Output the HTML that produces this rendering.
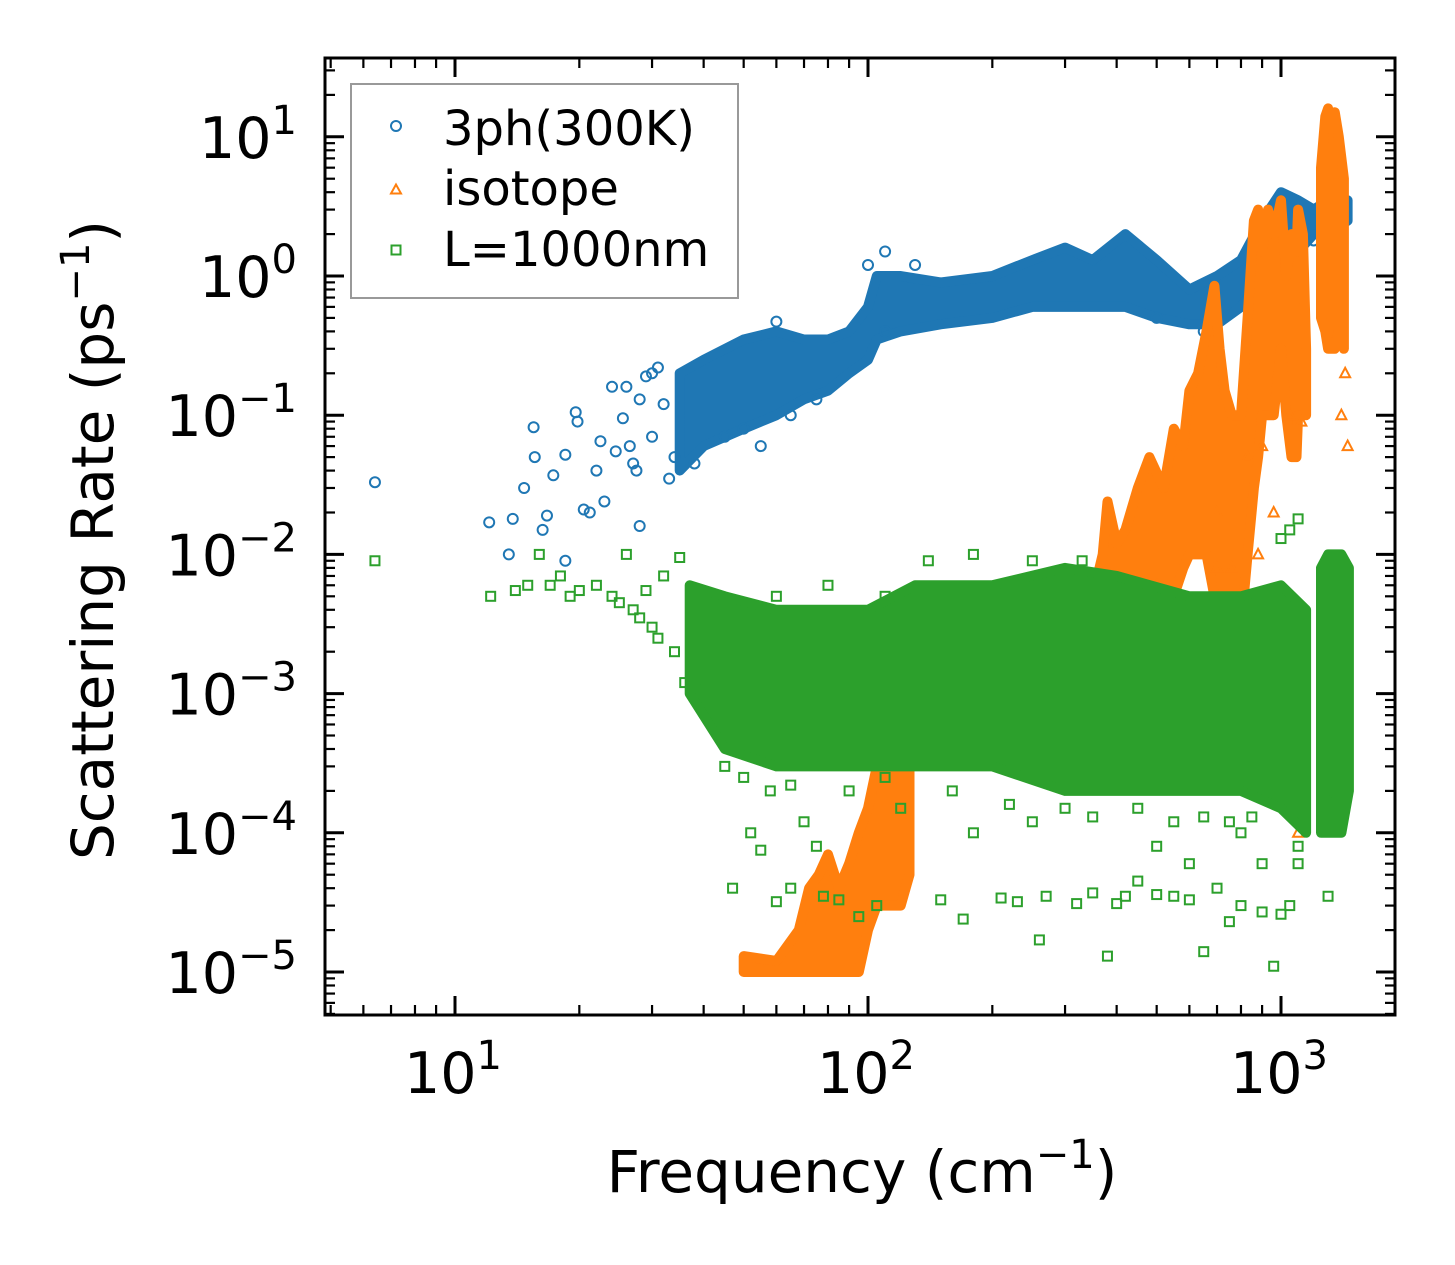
<!DOCTYPE html>
<html><head><meta charset="utf-8"><style>
html,body{margin:0;padding:0;background:#fff;}
svg{display:block;font-family:"DejaVu Sans","Liberation Sans",sans-serif;}
</style></head><body>
<svg id="chart" width="1455" height="1265" viewBox="0 0 1455 1265">
<g id="marks"></g>
<g id="axes"></g>
</svg>
<script>
// ---- data ----
const xTickExps = [1, 2, 3];
const yTickExps = [1, 0, -1, -2, -3, -4, -5];
const blueBandFreq = [35,40,50,60,70,80,90,100,105,120,150,200,250,300,350,420,500,600,700,800,900,1000,1100,1200,1300,1450];
const blueBandLow  = [0.04,0.06,0.08,0.1,0.13,0.15,0.2,0.25,0.35,0.4,0.45,0.5,0.6,0.6,0.6,0.6,0.5,0.45,0.45,0.6,1.0,1.5,1.5,2,2,2.5];
const blueBandHigh = [0.2,0.25,0.35,0.4,0.35,0.35,0.4,0.6,1.0,1.0,0.9,1.0,1.3,1.6,1.3,2.0,1.3,0.8,1.0,1.3,2.5,4,3.5,3,3.5,3.5];
const bluePts = [[6.4,0.033],[12.1,0.017],[13.5,0.010],[13.8,0.018],[14.7,0.030],[15.5,0.082],[15.6,0.05],[16.3,0.015],[16.7,0.019],[17.3,0.037],[18.5,0.052],[18.5,0.009],[19.6,0.105],[19.8,0.09],[20.5,0.021],[21.2,0.02],[22,0.04],[22.5,0.065],[23,0.024],[24,0.16],[24.5,0.055],[25.5,0.095],[26,0.16],[26.5,0.06],[27,0.045],[27.5,0.04],[28,0.016],[28,0.13],[29,0.19],[30,0.2],[31,0.22],[32,0.12],[30,0.07],[33,0.035],[34,0.05],[100,1.2],[110,1.5],[60,0.47],[45,0.07],[55,0.06],[65,0.1],[75,0.13],[50,0.08],[38,0.045],[110,0.4],[130,1.2],[500,0.5],[650,0.4],[1200,1.8]];
const orangeBandFreq = [50,60,68,72,76,80,85,90,95,100,105,110,115,120,126];
const orangeBandLow  = [1e-5,1e-5,1e-5,1e-5,1e-5,1e-5,1e-5,1e-5,1e-5,2e-5,3e-5,3e-5,3e-5,3e-5,5e-5];
const orangeBandHigh = [1.3e-5,1.2e-5,2e-5,4e-5,5e-5,7e-5,4e-5,6e-5,1e-4,1.5e-4,3e-4,5e-4,3e-4,4e-4,3e-4];
const orange2Freq = [330,350,370,380,400,420,450,480,520,550,580,600,630,660,690,710,730,760,800,830,860,880,900,930,960,1000,1030,1060,1090,1100,1130,1150];
const orange2Low  = [1e-3,1e-3,2e-3,2e-3,3e-3,3e-3,3e-3,5e-3,5e-3,5e-3,8e-3,1e-2,1e-2,1e-2,5e-3,3e-3,3e-3,3e-3,3e-3,0.01,0.03,0.05,0.1,0.1,0.1,0.3,0.1,0.05,0.05,0.1,0.1,0.1];
const orange2High = [3e-3,5e-3,1e-2,2.4e-2,1.2e-2,1.5e-2,3e-2,5e-2,3e-2,8e-2,6e-2,0.15,0.2,0.4,0.85,0.3,0.15,0.1,0.1,0.5,2.5,3,1.5,3,2,3.5,1,2,1.5,3,2,0.3];
const orange3Freq = [1250,1280,1300,1320,1350,1380,1420];
const orange3Low  = [0.5,0.4,0.3,0.3,0.3,0.4,0.3];
const orange3High = [6,14,16,12,15,10,5];
const orangePts = [[1100,1e-4],[1450,0.06],[1050,0.1],[1120,0.09],[1400,0.1],[900,0.06],[960,0.02],[880,0.01],[830,0.05],[700,0.02],[1430,0.2],[700,0.008],[760,0.008],[500,0.006]];
const greenBandFreq = [37,45,60,80,100,130,200,300,400,600,800,1000,1150];
const greenBandLow  = [1e-3,4e-4,3e-4,3e-4,3e-4,3e-4,3e-4,2e-4,2e-4,2e-4,2e-4,1.5e-4,1e-4];
const greenBandHigh = [6e-3,5e-3,4e-3,4e-3,4e-3,6e-3,6e-3,8e-3,7e-3,5e-3,5e-3,6e-3,4e-3];
const green2Freq = [1250,1300,1350,1400,1460];
const green2Low  = [1e-4,1e-4,1e-4,1e-4,2e-4];
const green2High = [8e-3,1e-2,1e-2,1e-2,8e-3];
const greenPts = [[6.4,0.009],[12.2,0.005],[14,0.0055],[15,0.006],[16,0.01],[17,0.006],[18,0.007],[19,0.005],[20,0.0055],[22,0.006],[24,0.005],[25,0.0045],[26,0.01],[27,0.004],[28,0.0035],[29,0.0055],[30,0.003],[31,0.0025],[32,0.007],[34,0.002],[35,0.0095],[36,0.0012],[40,0.0011],[47,4e-5],[52,1e-4],[55,7.5e-5],[60,3.2e-5],[65,4e-5],[70,1.2e-4],[75,8e-5],[78,3.5e-5],[85,3.3e-5],[95,2.5e-5],[105,3e-5],[150,3.3e-5],[170,2.4e-5],[210,3.4e-5],[230,3.2e-5],[260,1.7e-5],[270,3.5e-5],[320,3.1e-5],[350,3.7e-5],[380,1.3e-5],[400,3.1e-5],[420,3.5e-5],[450,4.5e-5],[500,3.6e-5],[550,3.5e-5],[600,3.3e-5],[650,1.4e-5],[700,4e-5],[750,2.3e-5],[800,3e-5],[900,2.7e-5],[960,1.1e-5],[1000,2.6e-5],[1050,3e-5],[1100,6e-5],[1300,3.5e-5],[1350,1.7e-4],[600,6e-5],[800,1e-4],[140,0.009],[180,0.01],[250,0.009],[1000,0.013],[1100,0.018],[1050,0.015],[120,1.5e-4],[180,1e-4],[250,1.2e-4],[500,8e-5],[900,6e-5],[45,3e-4],[50,2.5e-4],[58,2e-4],[65,2.2e-4],[90,2e-4],[110,2.5e-4],[160,2e-4],[220,1.6e-4],[300,1.5e-4],[350,1.3e-4],[450,1.5e-4],[550,1.2e-4],[650,1.3e-4],[750,1.2e-4],[850,1.3e-4],[1100,8e-5],[60,5e-3],[80,6e-3],[110,5e-3],[330,0.009]];

// ---- scales ----
const X0 = 455, PX_DEC_X = 413;
const Y0 = 276, PX_DEC_Y = 139.2;
const L = 325, R = 1395, T = 58, B = 1015;
function sx(v){ return X0 + (Math.log10(v) - 1) * PX_DEC_X; }
function sy(v){ return Y0 - Math.log10(v) * PX_DEC_Y; }

const NS = "http://www.w3.org/2000/svg";
const marks = document.getElementById('marks');
const axes = document.getElementById('axes');
const C = {blue:'#1f77b4', orange:'#ff7f0e', green:'#2ca02c'};

function band(fr, lo, hi, color, name){
  let d = '';
  fr.forEach((f,i)=>{ d += (i?'L':'M') + sx(f).toFixed(1) + ',' + sy(hi[i]).toFixed(1); });
  for(let i=fr.length-1;i>=0;i--){ d += 'L' + sx(fr[i]).toFixed(1) + ',' + sy(lo[i]).toFixed(1); }
  d += 'Z';
  const p = document.createElementNS(NS,'path');
  p.setAttribute('d', d);
  p.setAttribute('fill', color);
  p.setAttribute('stroke', color);
  p.setAttribute('stroke-width', '10');
  p.setAttribute('stroke-linejoin', 'round');
  
  
  marks.appendChild(p);
}
function marker(kind, x, y, color, name){
  let el;
  if(kind==='o'){ el = document.createElementNS(NS,'circle'); el.setAttribute('cx',x); el.setAttribute('cy',y); el.setAttribute('r',5); }
  else if(kind==='s'){ el = document.createElementNS(NS,'rect'); el.setAttribute('x',x-4.5); el.setAttribute('y',y-4.5); el.setAttribute('width',9); el.setAttribute('height',9); }
  else { el = document.createElementNS(NS,'polygon'); el.setAttribute('points', `${x},${y-5.5} ${x-5},${y+4} ${x+5},${y+4}`); }
  el.setAttribute('fill','none'); el.setAttribute('stroke',color); el.setAttribute('stroke-width','2');
  
  
  return el;
}
function pts(arr, kind, color, name){
  arr.forEach(p=>{ marks.appendChild(marker(kind, sx(p[0]), sy(p[1]), color, name)); });
}
band(blueBandFreq, blueBandLow, blueBandHigh, C.blue, 'three-phonon-band');
pts(bluePts, 'o', C.blue, 'three-phonon-point');
band(orangeBandFreq, orangeBandLow, orangeBandHigh, C.orange, 'isotope-band-low');
band(orange2Freq, orange2Low, orange2High, C.orange, 'isotope-band-mid');
band(orange3Freq, orange3Low, orange3High, C.orange, 'isotope-band-high');
pts(orangePts, 't', C.orange, 'isotope-point');
band(greenBandFreq, greenBandLow, greenBandHigh, C.green, 'boundary-band');
band(green2Freq, green2Low, green2High, C.green, 'boundary-band-high');
pts(greenPts, 's', C.green, 'boundary-point');

// ---- axes ----
function line(x1,y1,x2,y2,w,name){
  const l = document.createElementNS(NS,'line');
  l.setAttribute('x1',x1); l.setAttribute('y1',y1); l.setAttribute('x2',x2); l.setAttribute('y2',y2);
  l.setAttribute('stroke','#000'); l.setAttribute('stroke-width',w);
  
  
  axes.appendChild(l);
}
function text(x,y,exp,size,anchor,name){
  const t = document.createElementNS(NS,'text');
  t.setAttribute('x',x); t.setAttribute('y',y); t.setAttribute('font-size',size); t.setAttribute('text-anchor',anchor);
  t.innerHTML = '10<tspan dy="-24" font-size="40">' + (exp<0?'\u2212'+(-exp):exp) + '</tspan>';
  
  
  axes.appendChild(t);
}
for(let e=0;e<=3;e++){
  for(let m=1;m<=9;m++){
    const v = m*Math.pow(10,e); const x = sx(v);
    if(x<L||x>R) continue;
    const len = m===1?19:10, w = m===1?3:2.2;
    line(x,B,x,B-len,w,'x-tick'); line(x,T,x,T+len,w,'x-tick-top');
  }
}
xTickExps.forEach(e=>{ text(sx(Math.pow(10,e))-2, 1093, e, 57, 'middle', 'x-tick-label'); });
for(let e=-6;e<=1;e++){
  for(let m=1;m<=9;m++){
    const v = m*Math.pow(10,e); const y = sy(v);
    if(y<T||y>B) continue;
    const len = m===1?19:10, w = m===1?3:2.2;
    line(L,y,L+len,y,w,'y-tick'); line(R,y,R-len,y,w,'y-tick-right');
  }
}
yTickExps.forEach(e=>{ text(297, sy(Math.pow(10,e))+21, e, 57, 'end', 'y-tick-label'); });
const fr = document.createElementNS(NS,'rect');
fr.setAttribute('x',L); fr.setAttribute('y',T); fr.setAttribute('width',R-L); fr.setAttribute('height',B-T);
fr.setAttribute('fill','none'); fr.setAttribute('stroke','#000'); fr.setAttribute('stroke-width','3');


axes.appendChild(fr);
</script>
<script>
(function(){
const NS="http://www.w3.org/2000/svg";
const svg=document.getElementById('chart');
const g=document.createElementNS(NS,'g');


g.innerHTML =
 '<text x="862" y="1192" font-size="58" text-anchor="middle">Frequency (cm<tspan dy="-24" font-size="40">\u22121</tspan><tspan dy="24">)</tspan></text>'+
 '<text transform="translate(113,540) rotate(-90)" font-size="58" text-anchor="middle">Scattering Rate (ps<tspan dy="-24" font-size="40">\u22121</tspan><tspan dy="24">)</tspan></text>'+
 '<g>'+
 '<rect x="351" y="84" width="387" height="214" fill="#fff" fill-opacity="0.85" stroke="#999" stroke-width="2"/>'+
 '<circle cx="396" cy="126" r="5" fill="none" stroke="#1f77b4" stroke-width="2"/>'+
 '<text x="443" y="145" font-size="48">3ph(300K)</text>'+
 '<polygon points="396,184.5 391,193.5 401,193.5" fill="none" stroke="#ff7f0e" stroke-width="2"/>'+
 '<text x="443" y="205" font-size="48">isotope</text>'+
 '<rect x="391.5" y="245.5" width="9" height="9" fill="none" stroke="#2ca02c" stroke-width="2"/>'+
 '<text x="443" y="266" font-size="48">L=1000nm</text>'+
 '</g>';
svg.appendChild(g);
})();
</script>
</body></html>
